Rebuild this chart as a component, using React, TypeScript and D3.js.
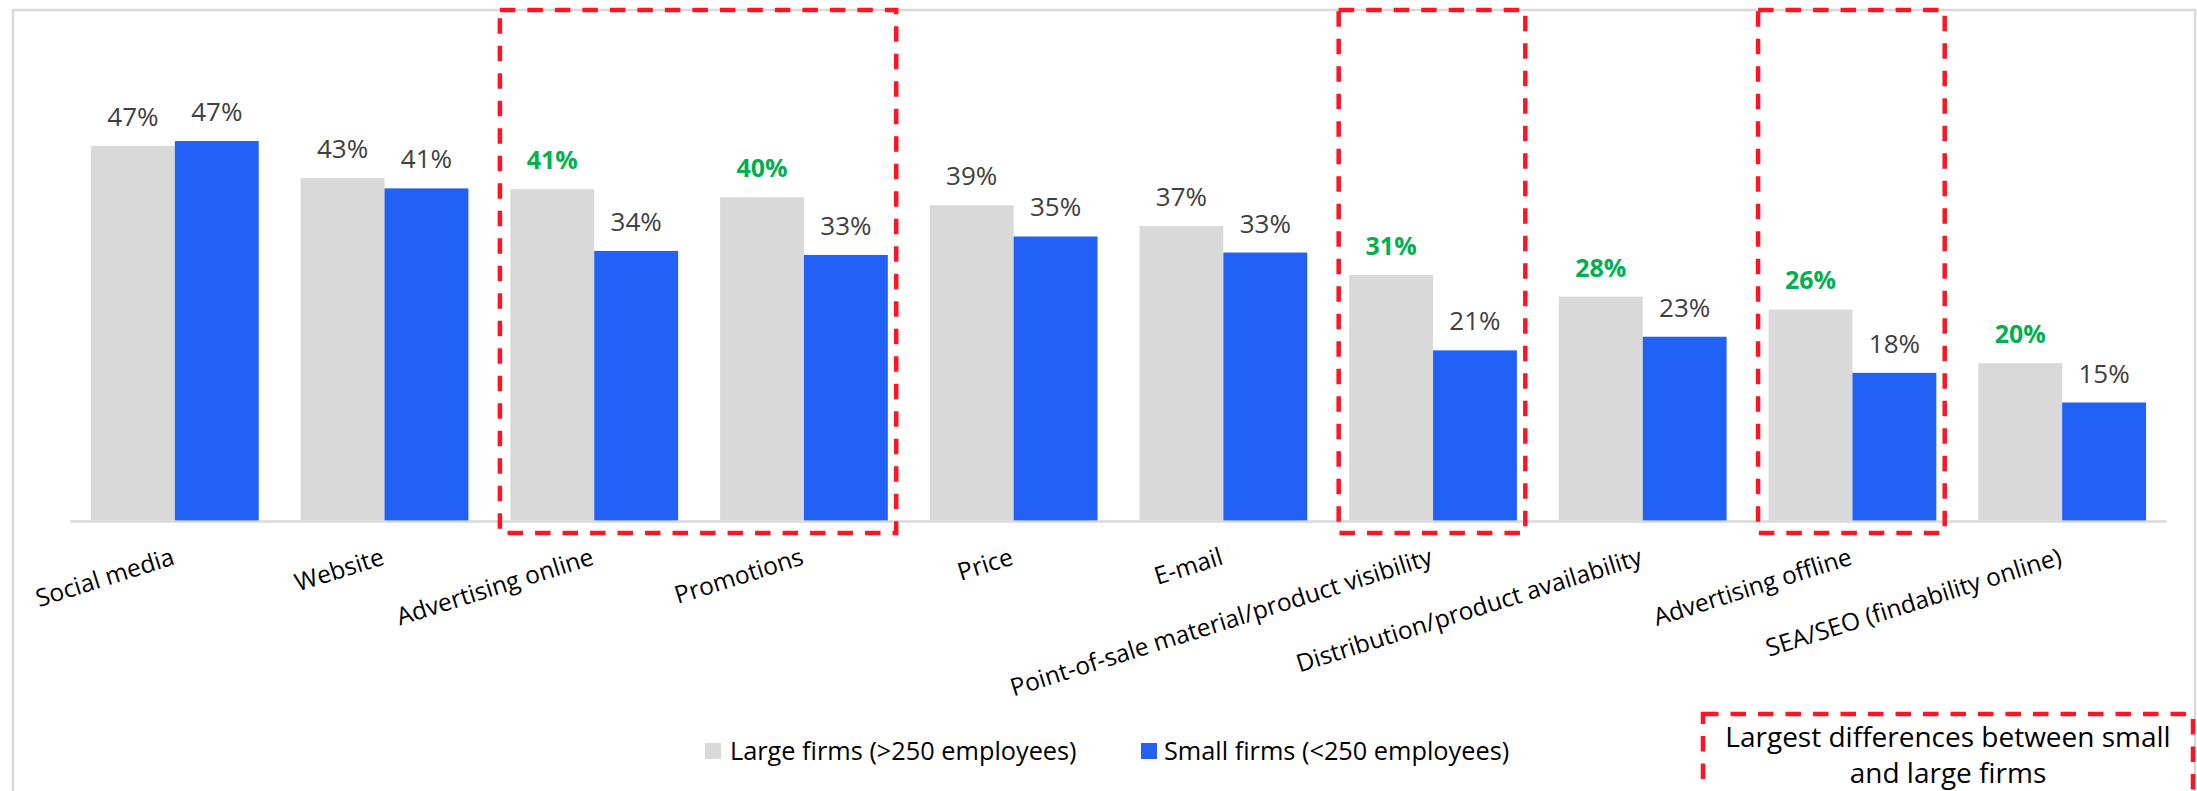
import React from "react";
import * as d3 from "d3";

const categories = [
  "Social media",
  "Website",
  "Advertising online",
  "Promotions",
  "Price",
  "E-mail",
  "Point-of-sale material/product visibility",
  "Distribution/product availability",
  "Advertising offline",
  "SEA/SEO (findability online)",
];
const largeFirms = [46.7, 42.7, 41.3, 40.3, 39.3, 36.7, 30.6, 27.9, 26.3, 19.6];
const smallFirms = [47.3, 41.4, 33.6, 33.1, 35.4, 33.4, 21.2, 22.9, 18.4, 14.7];
const greenLabel = [false, false, true, true, false, false, true, true, true, true];
const highlightRanges: [number, number][] = [
  [2, 3],
  [6, 6],
  [8, 8],
];
const seriesNames = ["Large firms (>250 employees)", "Small firms (<250 employees)"];
const noteLines = ["Largest differences between small", "and large firms"];

const W = 2197;
const H = 791;
const GRAY = "#D9D9D9";
const BLUE = "#2261F5";
const RED = "#FF1424";
const GREEN = "#00B050";
const FONT = "'Open Sans', sans-serif";

export default function App() {
  const baseline = 520.4;
  const x = d3.scaleBand<string>().domain(categories).range([70, 2167]).paddingInner(0.2).paddingOuter(0.1);
  const sub = d3.scaleBand<string>().domain(["large", "small"]).range([0, x.bandwidth()]);
  const y = d3.scaleLinear().domain([0, 50]).range([baseline, baseline - 50 * 8.02]);
  const step = x.step();
  const center = (i: number) => (x(categories[i]) as number) + x.bandwidth() / 2;

  return (
    <svg
      width={W}
      height={H}
      style={{ position: "absolute", left: 0, top: 0, background: "#fff" }}
      fontFamily={FONT}
    >
      {/* outer frame */}
      <rect x={13} y={10} width={2182} height={800} fill="none" stroke={GRAY} strokeWidth={2.5} />
      {/* baseline */}
      <line x1={70} x2={2167} y1={baseline + 1} y2={baseline + 1} stroke={GRAY} strokeWidth={2.5} />

      {categories.map((c, i) => {
        const x0 = x(c) as number;
        const lx = x0 + (sub("large") as number);
        const sx = x0 + (sub("small") as number);
        const bw = sub.bandwidth();
        const ly = y(largeFirms[i]);
        const sy = y(smallFirms[i]);
        return (
          <g key={c}>
            <rect x={lx} y={ly} width={bw} height={baseline - ly} fill={GRAY} />
            <rect x={sx} y={sy} width={bw} height={baseline - sy} fill={BLUE} />
            <text
              x={lx + bw / 2}
              y={ly - 20}
              textAnchor="middle"
              fontSize={greenLabel[i] ? 25 : 26}
              fontWeight={greenLabel[i] ? 700 : 400}
              fill={greenLabel[i] ? GREEN : "#404040"}
            >
              {`${Math.round(largeFirms[i])}%`}
            </text>
            <text x={sx + bw / 2} y={sy - 20} textAnchor="middle" fontSize={26} fill="#404040">
              {`${Math.round(smallFirms[i])}%`}
            </text>
            <text
              transform={`translate(${center(i) + 1},564) rotate(-17.5)`}
              textAnchor="end"
              fontSize={24.5}
              fill="#000"
            >
              {c}
            </text>
          </g>
        );
      })}

      {/* highlight boxes */}
      {highlightRanges.map(([a, b], k) => {
        const left = center(a) - step * 0.45;
        const right = center(b) + step * 0.44;
        return (
          <rect
            key={k}
            x={left}
            y={10}
            width={right - left}
            height={523}
            fill="none"
            stroke={RED}
            strokeWidth={4.5}
            strokeDasharray="15.5 12"
          />
        );
      })}

      {/* legend */}
      <rect x={705} y={743} width={16} height={16} fill={GRAY} />
      <text x={730} y={760} fontSize={25.3} fill="#000">
        {seriesNames[0]}
      </text>
      <rect x={1141} y={743} width={16} height={16} fill={BLUE} />
      <text x={1164} y={760} fontSize={25.3} fill="#000">
        {seriesNames[1]}
      </text>

      {/* note box */}
      <rect x={1703} y={714} width={490} height={120} fill="none" stroke={RED} strokeWidth={4.5} strokeDasharray="15.5 12" />
      <text x={1948} y={746.5} textAnchor="middle" fontSize={28} fill="#000">
        {noteLines[0]}
      </text>
      <text x={1948} y={783} textAnchor="middle" fontSize={28} fill="#000">
        {noteLines[1]}
      </text>
    </svg>
  );
}
